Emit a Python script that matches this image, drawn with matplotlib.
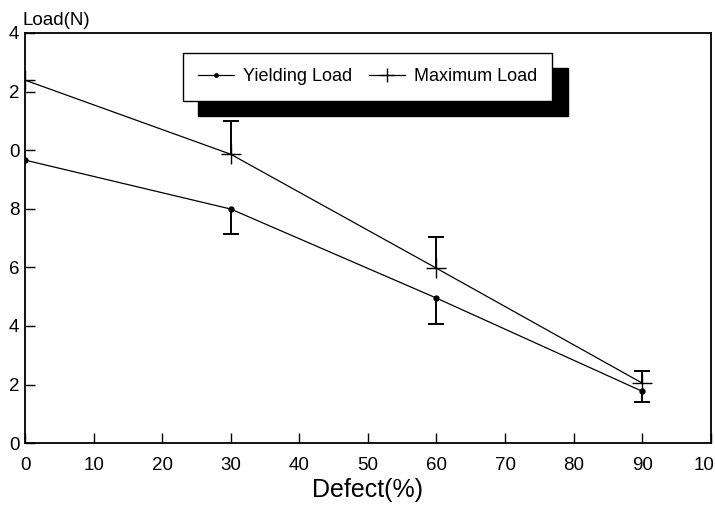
import matplotlib
matplotlib.use('Agg')
import matplotlib.pyplot as plt
import matplotlib.transforms as mtransforms
import numpy as np

plt.rcParams['font.family'] = ['Liberation Sans', 'DejaVu Sans']

defect = [0, 30, 60, 90]
yielding = [9.66, 7.99, 4.95, 1.77]
yielding_err_low = [0.0, 0.86, 0.90, 0.37]
maximum = [12.39, 9.86, 5.97, 2.05]
maximum_err_high = [0.0, 1.13, 1.06, 0.41]

xticks = [0, 10, 20, 30, 40, 50, 60, 70, 80, 90, 100]
xticklabels = ['0', '10', '20', '30', '40', '50', '60', '70', '80', '90', '10']
yticks = [0, 2, 4, 6, 8, 10, 12, 14]
yticklabels = ['0', '2', '4', '6', '8', '0', '2', '4']

fig = plt.figure(figsize=(7.15, 5.07), dpi=100)
ax = fig.add_axes([0.035, 0.126, 0.959, 0.809])

ax.plot(defect, yielding, color='black', lw=0.9, marker='o', markersize=3.5, label='Yielding Load')
ax.plot(defect, maximum, color='black', lw=0.9, marker='+', markersize=14, markeredgewidth=1.0,
        label='Maximum Load')

# one-sided error bars: yielding downward, maximum upward
x = np.array(defect)
y_lo = np.array(yielding) - np.array(yielding_err_low)
m_hi = np.array(maximum) + np.array(maximum_err_high)
has_y = np.array(yielding_err_low) > 0
has_m = np.array(maximum_err_high) > 0
ax.vlines(x[has_y], y_lo[has_y], np.array(yielding)[has_y], color='black', lw=1.4)
ax.plot(x[has_y], y_lo[has_y], ls='none', marker='_', markersize=11, markeredgewidth=1.4, color='black')
ax.vlines(x[has_m], np.array(maximum)[has_m], m_hi[has_m], color='black', lw=1.4)
ax.plot(x[has_m], m_hi[has_m], ls='none', marker='_', markersize=11, markeredgewidth=1.4, color='black')

ax.set_xlim(0, 100)
ax.set_ylim(0, 14)
ax.set_xticks(xticks)
ax.set_xticklabels(xticklabels)
ax.set_yticks(yticks)
ax.set_yticklabels(yticklabels)
ax.tick_params(direction='in', length=7, width=1, labelsize=13.5)
ax.tick_params(axis='x', pad=10)
ax.tick_params(axis='y', pad=4)
for s in ax.spines.values():
    s.set_linewidth(1.3)

# last x label sits just inside the figure edge
last = ax.get_xticklabels()[-1]
last.set_transform(last.get_transform() + mtransforms.ScaledTranslation(-4.5 / 72, 0, fig.dpi_scale_trans))

ax.set_xlabel('Defect(%)', fontsize=18, labelpad=3)
ax.text(-0.003, 1.02, 'Load(N)', transform=ax.transAxes, fontsize=13.5, ha='left', va='baseline')

handles, labels = ax.get_legend_handles_labels()
leg = ax.legend(handles, labels, ncol=2, loc='upper left', bbox_to_anchor=(0.23, 0.951),
                borderaxespad=0, fontsize=13, frameon=True, fancybox=False, handlelength=2.0,
                borderpad=0.85, columnspacing=0.9, handletextpad=0.5,
                shadow={'color': 'black', 'alpha': 1, 'ox': 11, 'oy': -11})
leg.get_frame().set_edgecolor('black')
leg.get_frame().set_linewidth(1.0)
for h in leg.legend_handles:
    h.set_markersize(h.get_markersize() * 0.7)

fig.savefig('out.png', dpi=100)
